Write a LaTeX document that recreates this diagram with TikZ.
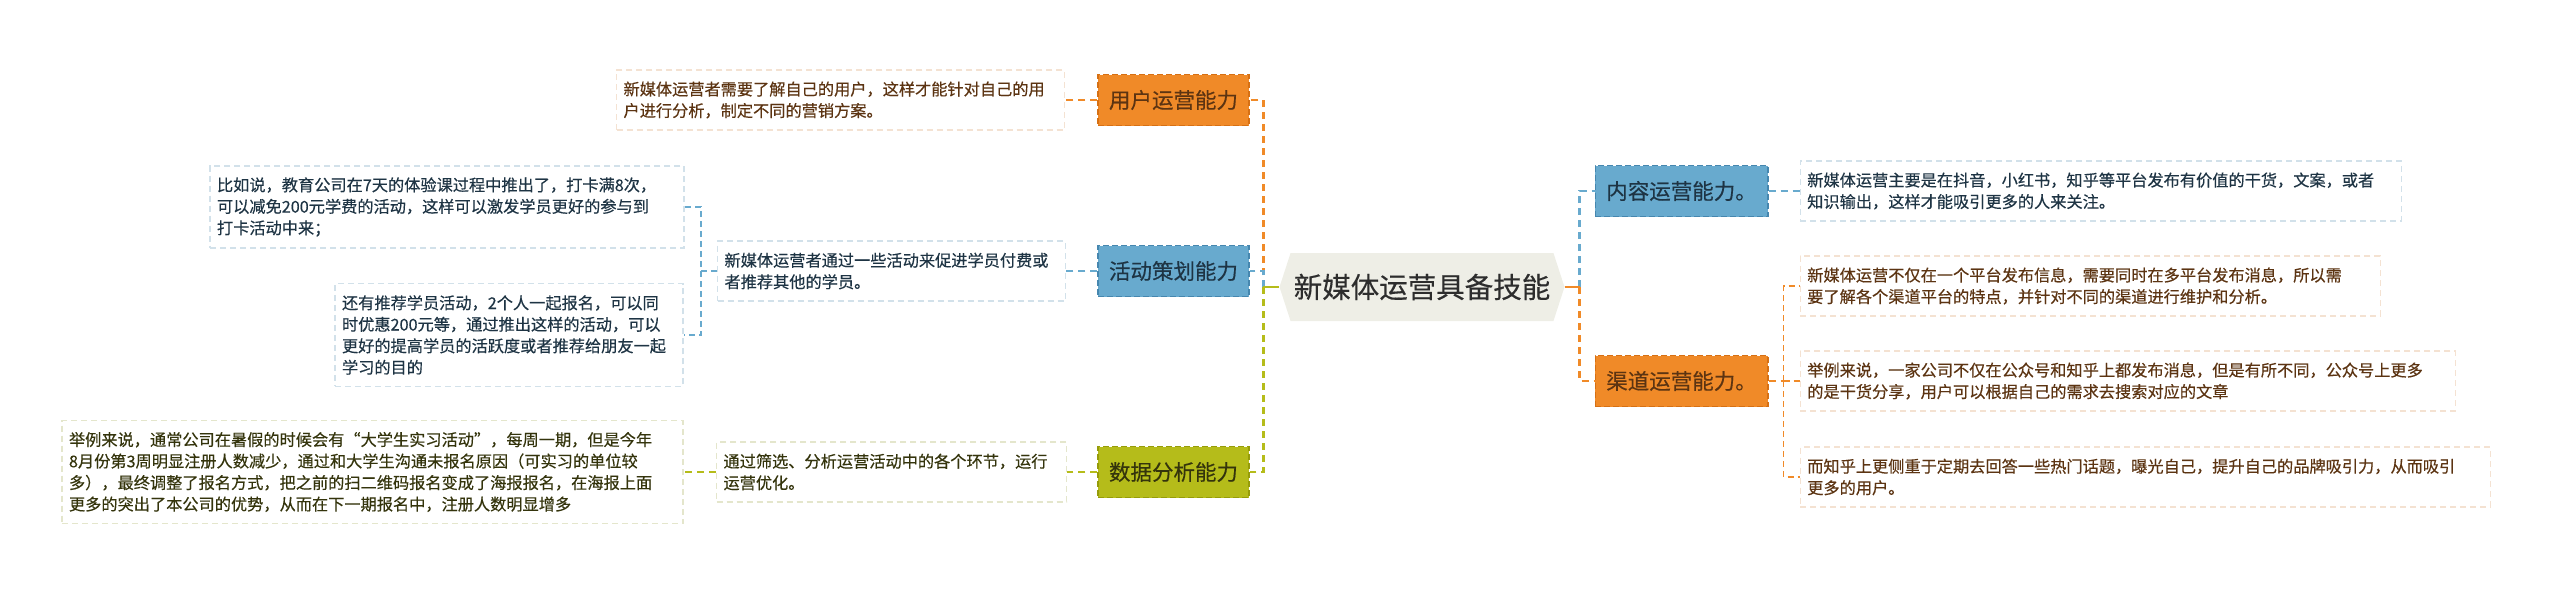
\documentclass[tikz,border=0pt]{standalone}
\usepackage{fontspec}
\setmainfont{Noto Sans CJK SC}[FakeBold=0.35]
\usepackage{tikz}
\usetikzlibrary{shapes.symbols, positioning, calc}
\definecolor{cOrange}{RGB}{240,138,40}
\definecolor{cOrangeDk}{RGB}{214,112,20}
\definecolor{cOrangeTx}{RGB}{92,52,18}
\definecolor{cOrangeLt}{RGB}{244,226,210}
\definecolor{cBlue}{RGB}{104,170,206}
\definecolor{cBlueDk}{RGB}{70,135,175}
\definecolor{cBlueTx}{RGB}{30,52,68}
\definecolor{cBlueLt}{RGB}{210,225,234}
\definecolor{cLime}{RGB}{181,188,26}
\definecolor{cLimeDk}{RGB}{150,156,10}
\definecolor{cLimeTx}{RGB}{52,52,12}
\definecolor{cLimeLt}{RGB}{228,230,204}
\definecolor{cCtrBg}{RGB}{238,238,230}
\definecolor{cCtrTx}{RGB}{45,45,45}
\tikzset{
	hub/.style   ={signal, signal to=east and west, signal pointer angle=144, fill=cCtrBg, text=cCtrTx, minimum width=285pt, minimum height=68pt, inner sep=0pt, font=\fontsize{28.5}{34}\selectfont},
	skill/.style ={rectangle, dash pattern=on 6pt off 3pt, line width=1.5pt, minimum height=51pt, inner xsep=11pt, font=\fontsize{21.5}{26}\selectfont},
	note/.style  ={rectangle, dash pattern=on 6pt off 4pt, line width=1.5pt, fill=white, align=left, inner xsep=7pt, inner ysep=11.5pt, font=\fontsize{16.2}{21.5}\selectfont},
	branch/.style={dash pattern=on 7pt off 5pt, line width=2.5pt},
	twig/.style  ={dash pattern=on 7pt off 5pt, line width=2pt},
	leaf/.style  ={dash pattern=on 6pt off 4pt, line width=1.5pt},
}
\begin{document}
\begin{tikzpicture}[x=1pt, y=-1pt]
	\useasboundingbox (0,0) rectangle (2560,595);
	\node[hub] (ctr) at (1422,287) {新媒体运营具备技能};
	\coordinate[left=16pt of ctr.west] (lj);
	\coordinate[right=15pt of ctr.east] (rj);
	\node[skill, fill=cOrange, draw=cOrangeDk, text=cOrangeTx] (usr) at (1173.5,100) {用户运营能力};
	\node[skill, fill=cBlue, draw=cBlueDk, text=cBlueTx] (act) at (1173.5,271) {活动策划能力};
	\node[skill, fill=cLime, draw=cLimeDk, text=cLimeTx] (dat) at (1173.5,472) {数据分析能力};
	\node[skill, fill=cBlue, draw=cBlueDk, text=cBlueTx] (cnt) at (1681.5,191) {内容运营能力。};
	\node[skill, fill=cOrange, draw=cOrangeDk, text=cOrangeTx] (chn) at (1681.5,381) {渠道运营能力。};
	\node[note, draw=cOrangeLt, text=cOrangeTx, text width=434pt, left=32pt of usr] (d1) {新媒体运营者需要了解自己的用户，这样才能针对自己的用\\户进行分析，制定不同的营销方案。};
	\node[note, draw=cBlueLt, text=cBlueTx, text width=334pt, left=31pt of act] (d2) {新媒体运营者通过一些活动来促进学员付费或\\者推荐其他的学员。};
	\node[note, draw=cBlueLt, text=cBlueTx, text width=460pt, left=32pt of d2, yshift=64pt] (e1) {比如说，教育公司在7天的体验课过程中推出了，打卡满8次，\\可以减免200元学费的活动，这样可以激发学员更好的参与到\\打卡活动中来；};
	\node[note, draw=cBlueLt, text=cBlueTx, text width=334pt, left=33pt of d2, yshift=-64pt] (e2) {还有推荐学员活动，2个人一起报名，可以同\\时优惠200元等，通过推出这样的活动，可以\\更好的提高学员的活跃度或者推荐给朋友一起\\学习的目的};
	\node[note, draw=cLimeLt, text=cLimeTx, text width=336pt, left=30pt of dat] (d3) {通过筛选、分析运营活动中的各个环节，运行\\运营优化。};
	\node[note, draw=cLimeLt, text=cLimeTx, text width=607pt, left=32pt of d3] (e3) {举例来说，通常公司在暑假的时候会有“大学生实习活动”，每周一期，但是今年\\8月份第3周明显注册人数减少，通过和大学生沟通未报名原因（可实习的单位较\\多），最终调整了报名方式，把之前的扫二维码报名变成了海报报名，在海报上面\\更多的突出了本公司的优势，从而在下一期报名中，注册人数明显增多};
	\node[note, draw=cBlueLt, text=cBlueTx, text width=587pt, right=31pt of cnt] (c1) {新媒体运营主要是在抖音，小红书，知乎等平台发布有价值的干货，文案，或者\\知识输出，这样才能吸引更多的人来关注。};
	\node[note, draw=cOrangeLt, text=cOrangeTx, text width=566pt, right=31pt of chn, yshift=95pt] (r1) {新媒体运营不仅在一个平台发布信息，需要同时在多平台发布消息，所以需\\要了解各个渠道平台的特点，并针对不同的渠道进行维护和分析。};
	\node[note, draw=cOrangeLt, text=cOrangeTx, text width=641pt, right=31pt of chn] (r2) {举例来说，一家公司不仅在公众号和知乎上都发布消息，但是有所不同，公众号上更多\\的是干货分享，用户可以根据自己的需求去搜索对应的文章};
	\node[note, draw=cOrangeLt, text=cOrangeTx, text width=676pt, right=31pt of chn, yshift=-96pt] (r3) {而知乎上更侧重于定期去回答一些热门话题，曝光自己，提升自己的品牌吸引力，从而吸引\\更多的用户。};
	\coordinate[left=16pt of d2.west] (aj);
	\coordinate[right=15pt of chn.east] (cj);
	\draw[branch, cOrange] (lj) |- (usr.east);
	\draw[branch, cBlue] (lj) |- (act.east);
	\draw[branch, cLime] (lj) |- (dat.east);
	\draw[line width=2.5pt, cLime] (lj) -- (ctr.west);
	\draw[branch, cBlue] (rj) |- (cnt.west);
	\draw[branch, cOrange] (rj) |- (chn.west);
	\draw[line width=2.5pt, cOrange] (ctr.east) -- (rj);
	\draw[twig, cOrange] (usr) -- (d1);
	\draw[twig, cBlue] (act) -- (d2);
	\draw[twig, cLime] (dat) -- (d3);
	\draw[twig, cLime] (d3) -- (e3);
	\draw[twig, cBlue] (cnt) -- (c1);
	\draw[twig, cOrange] (chn) -- (cj);
	\draw[leaf, cBlue] (d2.west) -- (aj) |- (e1.east);
	\draw[leaf, cBlue] (aj) |- (e2.east);
	\draw[leaf, cOrange] (cj) |- (r1.west);
	\draw[leaf, cOrange] (cj) |- (r2.west);
	\draw[leaf, cOrange] (cj) |- (r3.west);
\end{tikzpicture}
\end{document}
